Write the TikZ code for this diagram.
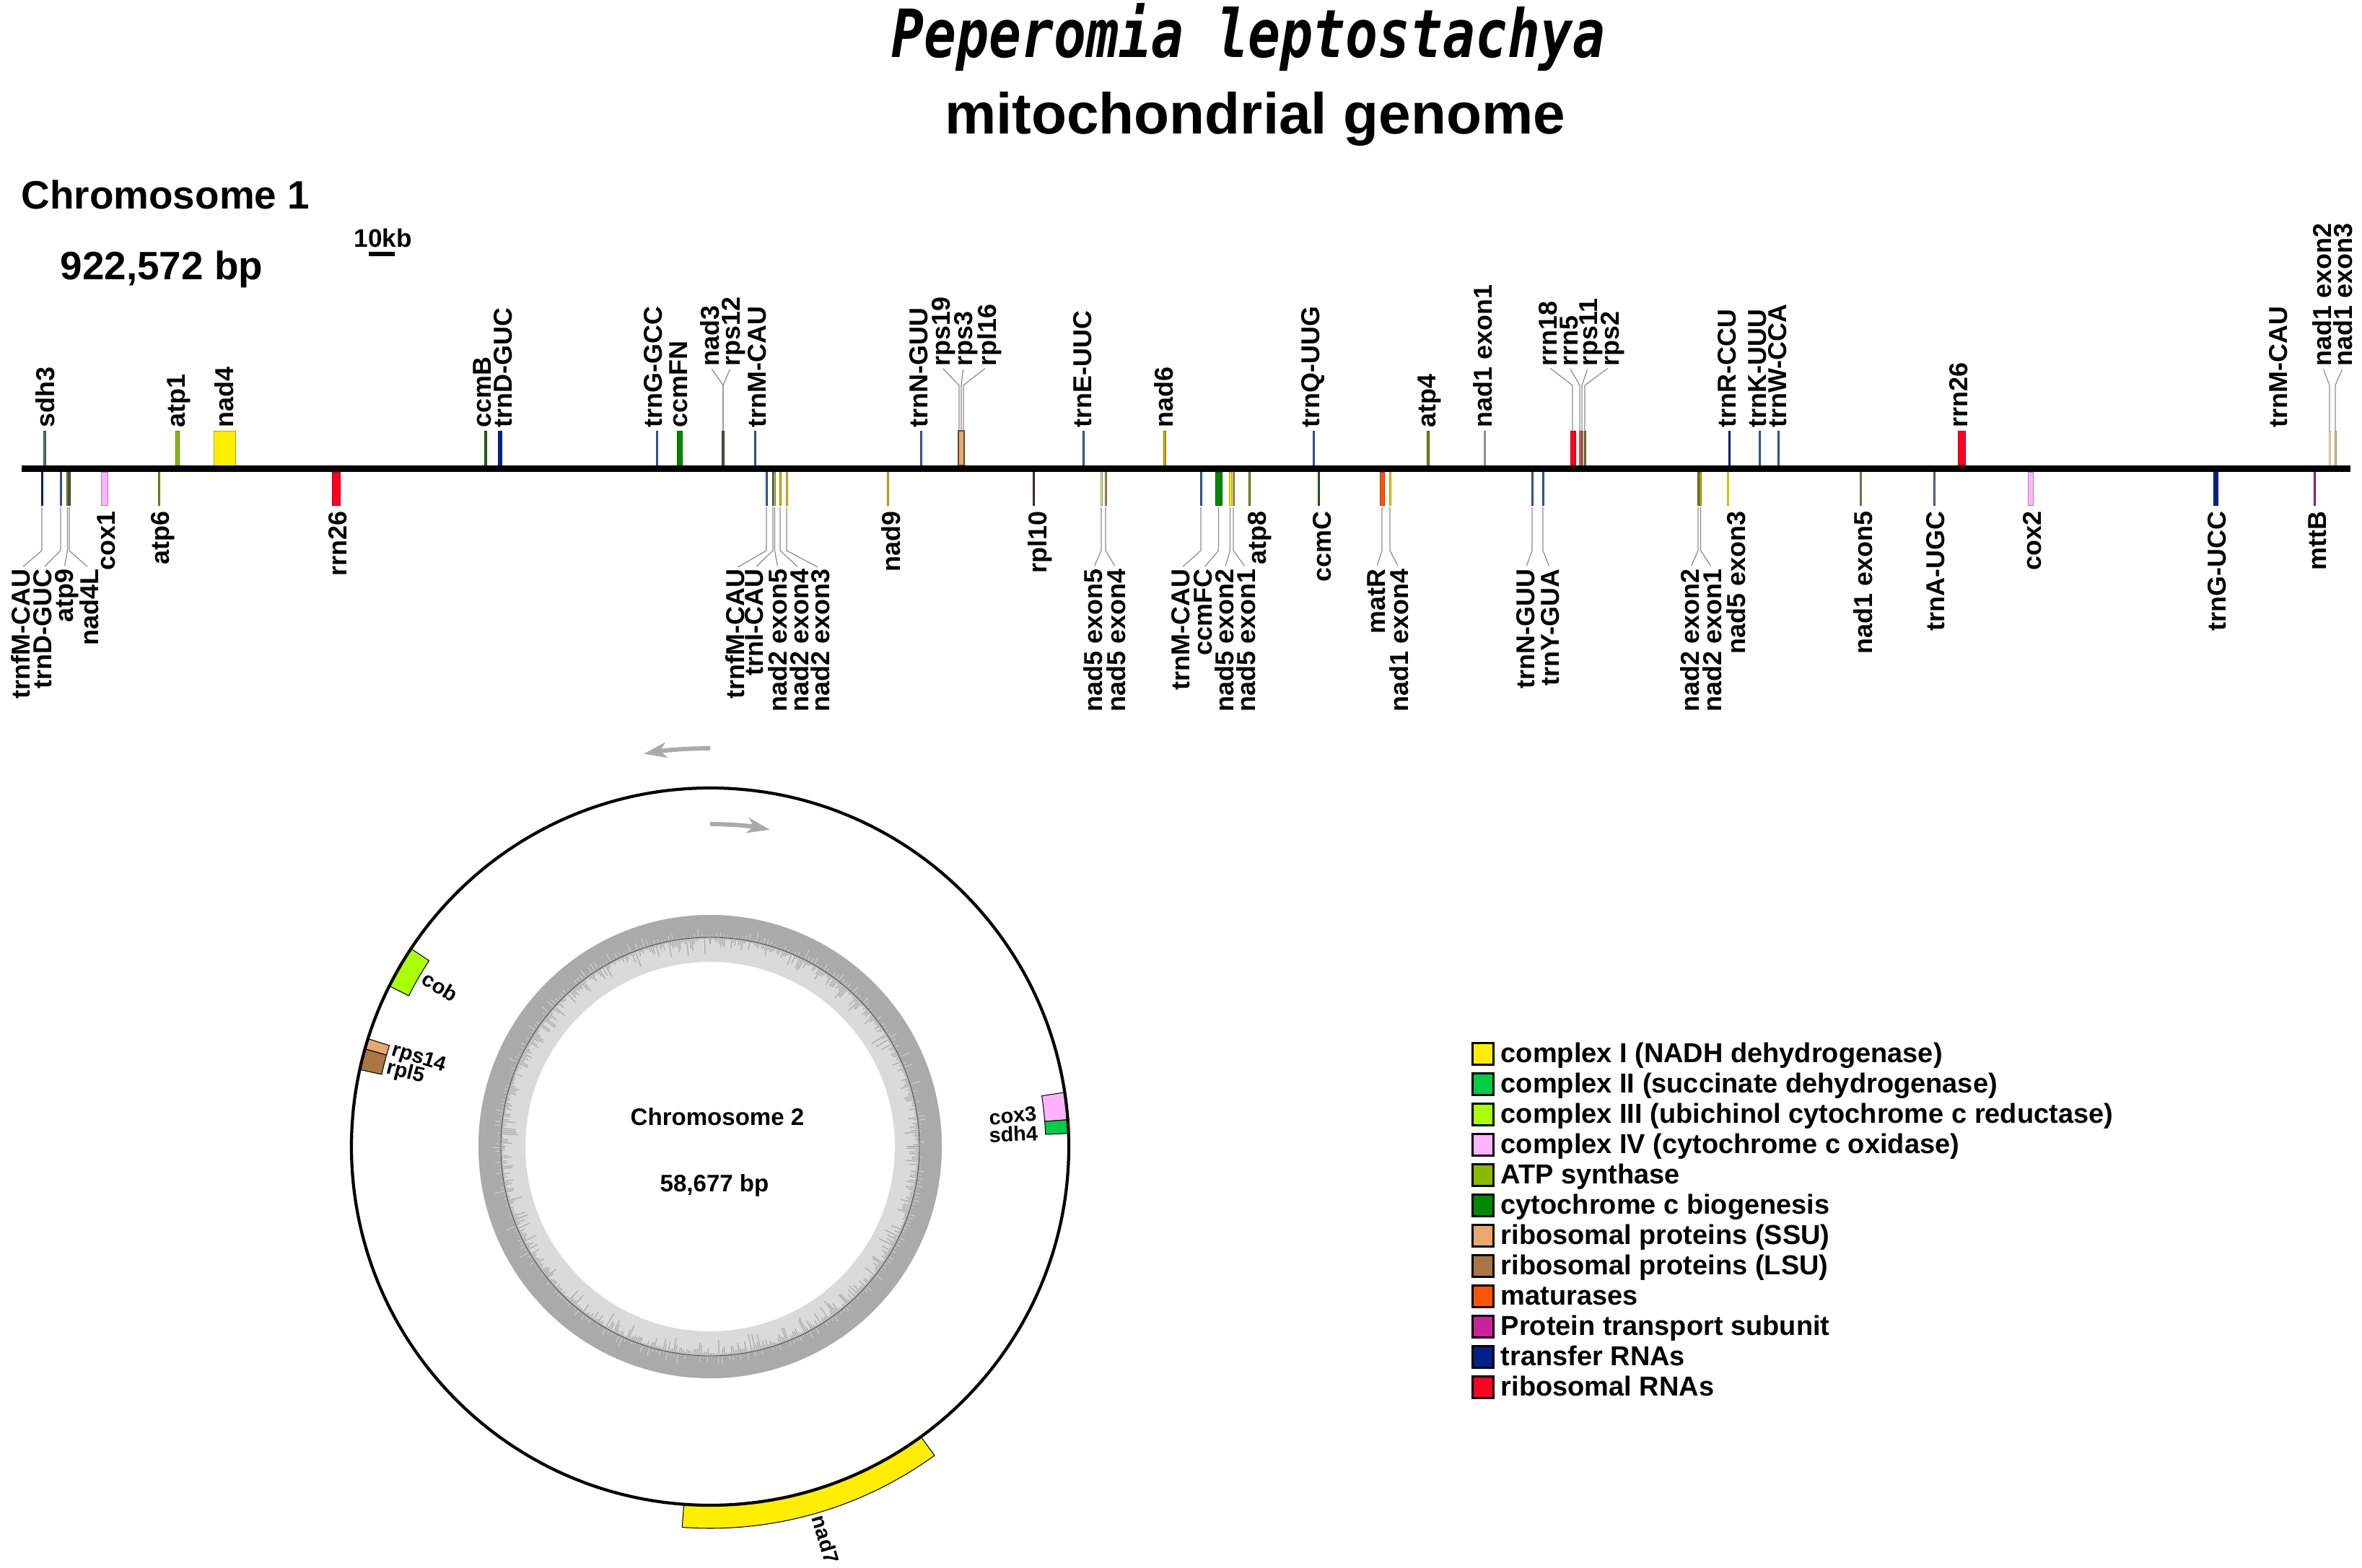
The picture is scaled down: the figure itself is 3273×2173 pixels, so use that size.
\documentclass[tikz,border=0pt]{standalone}
\usepackage{fontspec}
\setmainfont{Liberation Sans}
\newfontfamily\monofam{DejaVu Sans Mono}
\usetikzlibrary{arrows.meta}
% class colours
\definecolor{cone}{HTML}{FFEE00}
\definecolor{ctwo}{HTML}{00CC44}
\definecolor{cthree}{HTML}{AAFF00}
\definecolor{cfour}{HTML}{FFB3FF}
\definecolor{atp}{HTML}{88BB00}
\definecolor{ccm}{HTML}{008800}
\definecolor{ssu}{HTML}{E8A870}
\definecolor{lsu}{HTML}{AA7744}
\definecolor{mat}{HTML}{FF5500}
\definecolor{mtt}{HTML}{CC2299}
\definecolor{trna}{HTML}{002288}
\definecolor{rrna}{HTML}{FF0022}
% thin feature colours
\definecolor{trnthin}{HTML}{4060A8}
\definecolor{sdhthin}{HTML}{607060}
\definecolor{ccmdk}{HTML}{1F6A1F}
\definecolor{nthreeps}{HTML}{5A4A3A}
\definecolor{nadsix}{HTML}{C8B000}
\definecolor{atpthin}{HTML}{6A8A00}
\definecolor{ngray}{HTML}{B0B0B0}
\definecolor{rrnfive}{HTML}{FF6060}
\definecolor{rpsel}{HTML}{A08060}
\definecolor{rpstwo}{HTML}{8A6A40}
\definecolor{nonetwo}{HTML}{FFF6B0}
\definecolor{nonethree}{HTML}{D8D0A0}
\definecolor{atpnine}{HTML}{7A8A30}
\definecolor{nadfourl}{HTML}{556030}
\definecolor{atpsix}{HTML}{7A9A10}
\definecolor{ntwofive}{HTML}{D0B800}
\definecolor{ntwofour}{HTML}{D8C000}
\definecolor{ntwothree}{HTML}{E0CC20}
\definecolor{nadnine}{HTML}{D8C400}
\definecolor{rplten}{HTML}{4A3525}
\definecolor{nfivefive}{HTML}{E8E090}
\definecolor{nfivefour}{HTML}{A09850}
\definecolor{nfiveone}{HTML}{B0A040}
\definecolor{atpeight}{HTML}{7A9010}
\definecolor{nonefour}{HTML}{F0E000}
\definecolor{ntwotwo}{HTML}{8A8020}
\definecolor{ntwoone}{HTML}{C8B800}
\definecolor{nonefive}{HTML}{8A8A60}
\definecolor{trnau}{HTML}{6070A0}
\definecolor{mttb}{HTML}{AA2288}
\definecolor{leadc}{HTML}{8C8C8C}
\definecolor{gcl}{HTML}{DADADA}
\definecolor{gcd}{HTML}{AAAAAA}
\definecolor{arrg}{HTML}{AAAAAA}

\tikzset{
  glab/.style={rotate=90, inner sep=0pt, font=\bfseries\fontsize{10.2}{12}\selectfont, text height=7.3pt, text depth=0pt},
  clab/.style={inner sep=0pt, font=\bfseries\fontsize{8.2}{10}\selectfont, text height=5.9pt, text depth=0pt},
  leader/.style={draw=leadc, line width=0.35pt, shorten >=1.2pt},
  leg/.style={inner sep=0pt, font=\bfseries\fontsize{10.8}{13}\selectfont},
  garr/.style={draw=arrg, line width=1.7pt, -{Stealth[length=9pt,width=6pt,inset=2.5pt]}},
  gsec/.style={draw=black, line width=0.3pt}
}
\newcommand{\BarT}[3]{\filldraw[fill=#3, draw=#3!70!black, line width=0.2pt] (#1,597) rectangle (#2,645);}
\newcommand{\BarB}[3]{\filldraw[fill=#3, draw=#3!70!black, line width=0.2pt] (#1,654) rectangle (#2,700);}
\newcommand{\LabT}[3]{\node[glab, anchor=west] (#1) at (#2,593) {#3};}
\newcommand{\LabTL}[4]{\node[glab, anchor=west] (#1) at (#3,508) {#4};\draw[leader] (#2,597) -- (#2,534) -- (#1.west);}
\newcommand{\LabB}[3]{\node[glab, anchor=east] (#1) at (#2,708) {#3};}
\newcommand{\LabBL}[4]{\node[glab, anchor=east] (#1) at (#3,788) {#4};\draw[leader] (#2,703) -- (#2,763) -- (#1.east);}
\newcommand{\GSec}[5]{\filldraw[gsec, fill=#5] (#1:#3) arc[start angle=#1, end angle=#2, radius=#3] -- (#2:#4) arc[start angle=#2, end angle=#1, radius=#4] -- cycle;}
\newcommand{\LegItem}[4]{\filldraw[fill=#3, draw=black, line width=0.85pt] (2040.5,{1445.5+42*#2}) rectangle (2069.5,{1475.5+42*#2});
  \node[leg, anchor=base west] (#1) at (2079,{1472+42*#2}) {#4};}

\begin{document}
\begin{tikzpicture}[x=0.01cm, y=-0.01cm]
\useasboundingbox (0,0) rectangle (3273,2173);
\fill[white] (0,0) rectangle (3273,2173);
\pgfmathsetseed{11}

% titles
\node[inner sep=0pt, anchor=base, font=\monofam\bfseries\itshape\fontsize{26.2}{30}\selectfont, xscale=0.81] (title) at (1730,80) {Peperomia leptostachya};
\node[inner sep=0pt, anchor=base, font=\bfseries\fontsize{22.8}{26}\selectfont] (subtitle) at (1739,186) {mitochondrial genome};
\node[inner sep=0pt, anchor=base west, font=\bfseries\fontsize{15.6}{18}\selectfont] (chrone) at (29,290) {Chromosome 1};
\node[inner sep=0pt, anchor=base west, font=\bfseries\fontsize{15.6}{18}\selectfont] (lenone) at (83,388) {922,572 bp};
\node[inner sep=0pt, anchor=base west, font=\bfseries\fontsize{10}{12}\selectfont] (scalelab) at (490,343) {10kb};
\fill (511,349) rectangle (547,355);

% ---------- features above the line ----------
\BarT{60.5}{63}{sdhthin}
\BarT{243}{248}{atp}
\BarT{296}{326}{cone}
\BarT{671}{674}{ccmdk}
\BarT{690}{695}{trna}
\BarT{909}{911}{trnthin}
\BarT{938}{945}{ccm}
\BarT{1000.5}{1003.5}{nthreeps}
\BarT{1045}{1047}{trnthin}
\BarT{1275}{1277}{trnthin}
\filldraw[fill=ssu, draw=lsu!60!black, line width=0.6pt] (1328,597) rectangle (1336,645);
\BarT{1500}{1502}{trnthin}
\BarT{1612}{1615}{nadsix}
\BarT{1819}{1821}{trnthin}
\BarT{1977}{1980}{atpthin}
\BarT{2056}{2058}{ngray}
\BarT{2176}{2183}{rrna}
\BarT{2188}{2190}{rrnfive}
\BarT{2191}{2193}{rpsel}
\BarT{2195}{2197}{rpstwo}
\BarT{2395}{2397.5}{trna}
\BarT{2437}{2439}{trnthin}
\BarT{2463}{2465}{trnthin}
\BarT{2713}{2723}{rrna}
\BarT{3227}{3229}{nonetwo}
\BarT{3235}{3237}{nonethree}

% ---------- features below the line ----------
\BarB{57}{59}{trna}
\BarB{83}{85}{trnthin}
\BarB{92.5}{94.5}{atpnine}
\BarB{95}{97}{nadfourl}
\BarB{140}{149}{cfour}
\BarB{219}{221.5}{atpsix}
\BarB{460}{471}{rrna}
\BarB{1061}{1063}{trnthin}
\BarB{1070}{1072}{trnthin}
\BarB{1072.5}{1074.5}{ntwofive}
\BarB{1080}{1082}{ntwofour}
\BarB{1089}{1091}{ntwothree}
\BarB{1229}{1231.5}{nadnine}
\BarB{1431}{1433.5}{rplten}
\BarB{1525}{1527}{nfivefive}
\BarB{1531}{1533}{nfivefour}
\BarB{1663}{1665}{trnthin}
\BarB{1684}{1693}{ccm}
\BarB{1703}{1706}{cone}
\BarB{1708}{1710}{nfiveone}
\BarB{1730}{1732}{atpeight}
\BarB{1826}{1828.5}{ccmdk}
\BarB{1912}{1918}{mat}
\BarB{1925}{1927}{nonefour}
\BarB{2122}{2124}{trnthin}
\BarB{2137}{2139}{trnthin}
\BarB{2352}{2354}{ntwotwo}
\BarB{2355.5}{2357.5}{ntwoone}
\BarB{2393}{2395}{cone}
\BarB{2577}{2579}{nonefive}
\BarB{2679}{2681}{trnau}
\BarB{2810}{2817}{cfour}
\BarB{3067}{3073}{trna}
\BarB{3206}{3208}{mttb}

% main chromosome line
\fill[black] (30,645) rectangle (3257,654);

% ---------- labels above ----------
\LabT{tA}{63}{sdh3}
\LabT{tB}{244}{atp1}
\LabT{tC}{311}{nad4}
\LabT{tD}{668}{ccmB}
\LabT{tE}{697}{trnD-GUC}
\LabT{tF}{905}{trnG-GCC}
\LabT{tG}{940}{ccmFN}
\LabT{tH}{1049}{trnM-CAU}
\LabT{tI}{1273}{trnN-GUU}
\LabT{tJ}{1500}{trnE-UUC}
\LabT{tK}{1613}{nad6}
\LabT{tL}{1816}{trnQ-UUG}
\LabT{tM}{1977}{atp4}
\LabT{tN}{2055}{nad1 exon1}
\LabT{tO}{2393}{trnR-CCU}
\LabT{tP}{2435}{trnK-UUU}
\LabT{tQ}{2463}{trnW-CCA}
\LabT{tR}{2714}{rrn26}
\LabT{tS}{3157}{trnM-CAU}

\LabTL{uA}{1002}{984}{nad3}
\LabTL{uB}{1002}{1013}{rps12}
\LabTL{uC}{1329}{1304}{rps19}
\LabTL{uD}{1332}{1335}{rps3}
\LabTL{uE}{1335}{1368}{rpl16}
\LabTL{uF}{2179}{2145}{rrn18}
\LabTL{uG}{2189}{2174}{rrn5}
\LabTL{uH}{2192}{2201}{rps11}
\LabTL{uI}{2196}{2231}{rps2}
\LabTL{uJ}{3228}{3218}{nad1 exon2}
\LabTL{uK}{3236}{3247}{nad1 exon3}

% ---------- labels below ----------
\LabB{bA}{147}{cox1}
\LabB{bB}{222}{atp6}
\LabB{bC}{468}{rrn26}
\LabB{bD}{1235}{nad9}
\LabB{bE}{1438}{rpl10}
\LabB{bF}{1742}{atp8}
\LabB{bG}{1832}{ccmC}
\LabB{bH}{2406}{nad5 exon3}
\LabB{bI}{2582}{nad1 exon5}
\LabB{bJ}{2682}{trnA-UGC}
\LabB{bK}{2816}{cox2}
\LabB{bL}{3072}{trnG-UCC}
\LabB{bM}{3211}{mttB}

\LabBL{cA}{58}{29}{trnfM-CAU}
\LabBL{cB}{84}{59}{trnD-GUC}
\LabBL{cC}{93.5}{89}{atp9}
\LabBL{cD}{96}{124}{nad4L}
\LabBL{cE}{1062}{1019}{trnfM-CAU}
\LabBL{cF}{1071}{1045}{trnI-CAU}
\LabBL{cG}{1073.5}{1078}{nad2 exon5}
\LabBL{cH}{1081}{1108}{nad2 exon4}
\LabBL{cI}{1090}{1137}{nad2 exon3}
\LabBL{cJ}{1526}{1515}{nad5 exon5}
\LabBL{cK}{1532}{1547}{nad5 exon4}
\LabBL{cL}{1664}{1636}{trnM-CAU}
\LabBL{cM}{1688.5}{1667}{ccmFC}
\LabBL{cN}{1704.5}{1697}{nad5 exon2}
\LabBL{cO}{1709}{1727}{nad5 exon1}
\LabBL{cP}{1915}{1907}{matR}
\LabBL{cQ}{1926}{1939}{nad1 exon4}
\LabBL{cR}{2123}{2114}{trnN-GUU}
\LabBL{cS}{2138}{2148}{trnY-GUA}
\LabBL{cT}{2353}{2342}{nad2 exon2}
\LabBL{cU}{2356.5}{2373}{nad2 exon1}

% ---------- chromosome 2 (circular) ----------
\begin{scope}[shift={(984,1589)}, yscale=-1]
  \fill[gcl, even odd rule] (0,0) circle[radius=321] (0,0) circle[radius=256];
  \fill[gcd, even odd rule] (0,0) circle[radius=321] (0,0) circle[radius=290];
  \foreach \a in {0,0.5,...,359.5}{
    \pgfmathsetmacro\rlen{288-24*rnd*rnd}
    \draw[gcd, line width=0.35pt] (\a:290) -- (\a:\rlen);
  }
  \foreach \a in {0.25,1.25,...,359.25}{
    \pgfmathsetmacro\rout{292+14*rnd*rnd}
    \draw[gcl!80!gcd, line width=0.3pt] (\a:292) -- (\a:\rout);
  }
  \draw[gray!60!black, line width=0.25pt] (0,0) circle[radius=290];
  % genes
  \GSec{146.5}{153.4}{497}{467}{cthree}
  \GSec{162.5}{164.2}{497}{466}{ssu}
  \GSec{164.2}{167.6}{497}{466}{lsu}
  \GSec{4.3}{8.7}{497}{465}{cfour}
  \GSec{2.1}{4.3}{497}{465}{ctwo}
  \GSec{265.8}{306}{497}{529}{cone}
  \draw[black, line width=1.2pt] (0,0) circle[radius=497];
  % gene labels
  \node[clab, rotate=-30.7, anchor=west] (lcob) at (149.3:461) {cob};
  \node[clab, rotate=-17.3, anchor=west] (lrps) at (162.7:461) {rps14};
  \node[clab, rotate=-14, anchor=west] (lrpl) at (166:461) {rpl5};
  \node[clab, rotate=5.9, anchor=east] (lcox) at (5.9:455) {cox3};
  \node[clab, rotate=2.4, anchor=east] (lsdh) at (2.4:455) {sdh4};
  \node[clab, rotate=-73.6, anchor=west] (lnad) at (286.4:533) {nad7};
  % strand arrows
  \draw[garr] (90:552) arc[start angle=90, end angle=99.6, radius=552];
  \draw[garr] (90:447) arc[start angle=90, end angle=79.3, radius=447];
\end{scope}
\node[inner sep=0pt, font=\bfseries\fontsize{9.4}{11}\selectfont] (chrtwo) at (994,1548) {Chromosome 2};
\node[inner sep=0pt, font=\bfseries\fontsize{9.4}{11}\selectfont] (lentwo) at (990,1643) {58,677 bp};

% ---------- legend ----------
\LegItem{lgA}{0}{cone}{complex I (NADH dehydrogenase)}
\LegItem{lgB}{1}{ctwo}{complex II (succinate dehydrogenase)}
\LegItem{lgC}{2}{cthree}{complex III (ubichinol cytochrome c reductase)}
\LegItem{lgD}{3}{cfour}{complex IV (cytochrome c oxidase)}
\LegItem{lgE}{4}{atp}{ATP synthase}
\LegItem{lgF}{5}{ccm}{cytochrome c biogenesis}
\LegItem{lgG}{6}{ssu}{ribosomal proteins (SSU)}
\LegItem{lgH}{7}{lsu}{ribosomal proteins (LSU)}
\LegItem{lgI}{8}{mat}{maturases}
\LegItem{lgJ}{9}{mtt}{Protein transport subunit}
\LegItem{lgK}{10}{trna}{transfer RNAs}
\LegItem{lgL}{11}{rrna}{ribosomal RNAs}
\end{tikzpicture}
\end{document}
